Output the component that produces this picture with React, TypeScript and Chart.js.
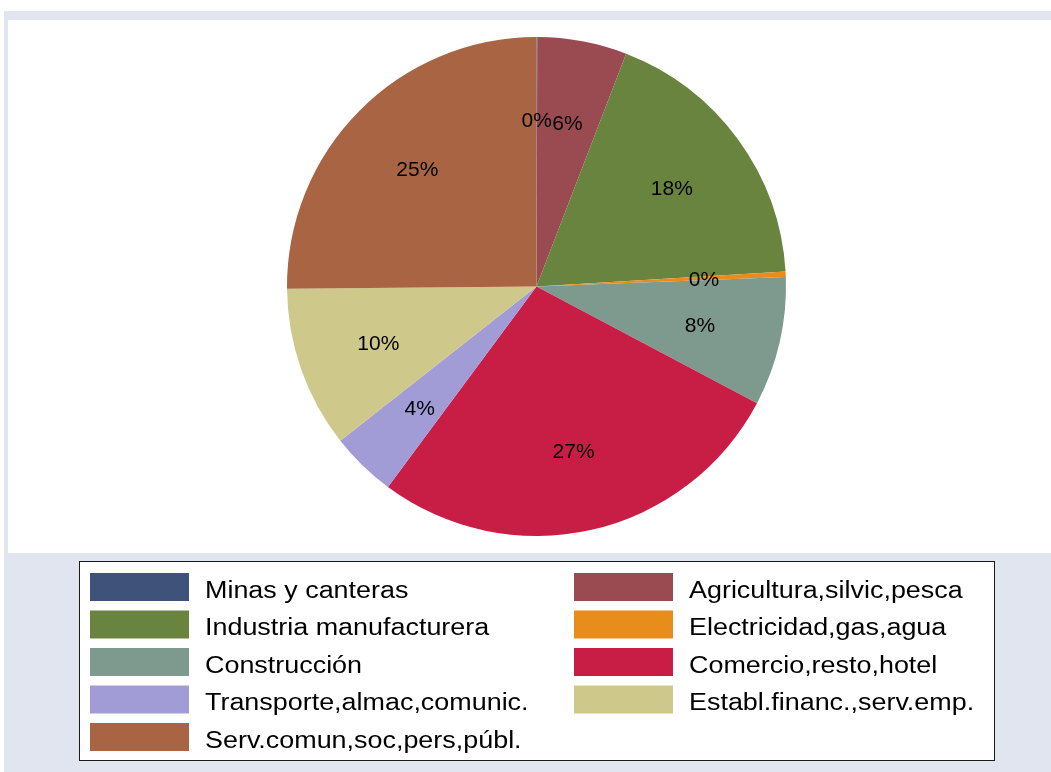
import React, { useEffect, useRef } from 'react';
import { Chart, registerables } from 'chart.js';

Chart.register(...registerables);

const categories = [
  'Minas y canteras',
  'Agricultura,silvic,pesca',
  'Industria manufacturera',
  'Electricidad,gas,agua',
  'Construcción',
  'Comercio,resto,hotel',
  'Transporte,almac,comunic.',
  'Establ.financ.,serv.emp.',
  'Serv.comun,soc,pers,públ.',
];

const shares = [0.05, 5.8, 18.2, 0.35, 8.35, 27.4, 4.25, 10.45, 25.15];

const sliceColors = [
  '#3e527a',
  '#9a4a51',
  '#68843f',
  '#e88c1c',
  '#7e9a8e',
  '#c81e46',
  '#a19bd6',
  '#cec98b',
  '#a86443',
];

const FONT = '"Liberation Sans", Arial, Helvetica, sans-serif';

const framePlugin = {
  id: 'frame',
  beforeDraw(chart: any) {
    const ctx = chart.ctx;
    const w = chart.width;
    const h = chart.height;
    ctx.save();
    ctx.fillStyle = '#ffffff';
    ctx.fillRect(0, 0, w, h);
    ctx.fillStyle = '#e1e5f0';
    ctx.fillRect(4, 11, w - 4, h - 11);
    ctx.fillStyle = '#ffffff';
    ctx.fillRect(8, 20, w - 8, 533);
    ctx.restore();
  },
};

const sliceLabelPlugin = {
  id: 'sliceLabels',
  afterDatasetsDraw(chart: any) {
    const ctx = chart.ctx;
    const meta = chart.getDatasetMeta(0);
    const data = chart.data.datasets[0].data as number[];
    ctx.save();
    ctx.font = `21px ${FONT}`;
    ctx.fillStyle = '#000000';
    ctx.textAlign = 'center';
    ctx.textBaseline = 'middle';
    meta.data.forEach((arc: any, i: number) => {
      const p = arc.getProps(['x', 'y', 'startAngle', 'endAngle', 'outerRadius'], true);
      const mid = (p.startAngle + p.endAngle) / 2;
      const r = p.outerRadius * 0.672;
      const px = p.x + Math.cos(mid) * r;
      const py = p.y + Math.sin(mid) * r + 2;
      ctx.fillText(`${Math.round(data[i])}%`, px, py);
    });
    ctx.restore();
  },
};

const legendPlugin = {
  id: 'boxLegend',
  afterDraw(chart: any) {
    const ctx = chart.ctx;
    const labels = chart.data.labels as string[];
    const colors = chart.data.datasets[0].backgroundColor as string[];
    ctx.save();
    ctx.fillStyle = '#ffffff';
    ctx.fillRect(79, 561, 915, 200);
    ctx.strokeStyle = '#1a1a1a';
    ctx.lineWidth = 1;
    ctx.strokeRect(79.5, 561.5, 915, 199);
    const colSwatchX = [90, 574];
    const colTextX = [205, 689];
    const rowTop = 573;
    const pitch = 37.5;
    labels.forEach((lab, i) => {
      const row = Math.floor(i / 2);
      const col = i % 2;
      const top = rowTop + row * pitch;
      ctx.fillStyle = colors[i];
      ctx.fillRect(colSwatchX[col], top, 99, 28);
      ctx.save();
      ctx.fillStyle = '#000000';
      ctx.font = `23px ${FONT}`;
      ctx.textAlign = 'left';
      ctx.textBaseline = 'alphabetic';
      ctx.translate(colTextX[col], top + 24.5);
      ctx.scale(1.17, 1);
      ctx.fillText(lab, 0, 0);
      ctx.restore();
    });
    ctx.restore();
  },
};

export default function App() {
  const canvasRef = useRef<HTMLCanvasElement | null>(null);

  useEffect(() => {
    if (!canvasRef.current) return;
    const chart = new Chart(canvasRef.current, {
      type: 'pie',
      data: {
        labels: categories,
        datasets: [
          {
            data: shares,
            backgroundColor: sliceColors,
            borderWidth: 0,
            hoverOffset: 0,
          },
        ],
      },
      options: {
        responsive: false,
        animation: false,
        layout: {
          padding: { left: 287, top: 37, right: 265, bottom: 236 },
        },
        plugins: {
          legend: { display: false },
          tooltip: { enabled: false },
          title: { display: false },
        },
      },
      plugins: [framePlugin, sliceLabelPlugin, legendPlugin],
    });
    return () => chart.destroy();
  }, []);

  return (
    <div style={{ position: 'absolute', left: 0, top: 0, width: 1051, height: 772 }}>
      <canvas ref={canvasRef} width={1051} height={772} style={{ display: 'block' }} />
    </div>
  );
}
